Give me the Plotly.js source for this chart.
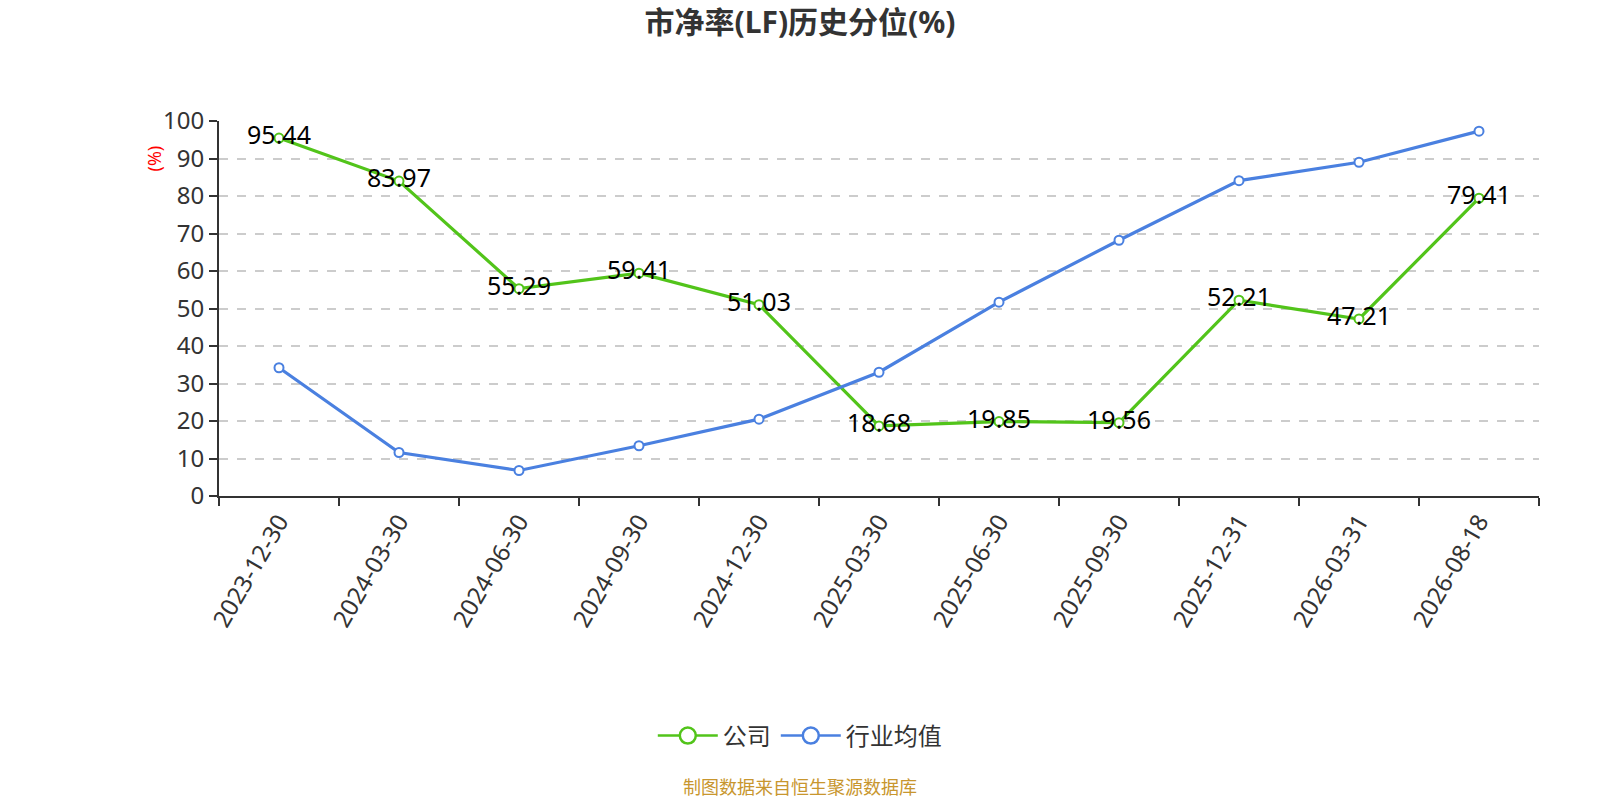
<html>
<head>
<meta charset="utf-8">
<script src="https://cdn.plot.ly/plotly-3.0.1.min.js"></script>
</head>
<body style="margin:0">
<div id="chart" style="width:1600px;height:800px"></div>
<script>
// quarter end dates on the x axis
var dates = ["2023-12-30", "2024-03-30", "2024-06-30", "2024-09-30", "2024-12-30",
             "2025-03-30", "2025-06-30", "2025-09-30", "2025-12-31", "2026-03-31", "2026-08-18"];
// company percentile (labels)
var company = [95.44, 83.97, 55.29, 59.41, 51.03, 18.68, 19.85, 19.56, 52.21, 47.21, 79.41];
// industry average percentile (estimated from the line)
var industry = [34.2, 11.6, 6.8, 13.4, 20.5, 33.0, 51.7, 68.2, 84.1, 89.0, 97.3];
var seriesNames = ["公司", "行业均值"];

var fontFam = "Noto Sans, Noto Sans CJK SC, sans-serif";
var green = "#52c41a";
var blue = "#4a80e0";

var companyTrace = {
  x: dates, y: company, name: seriesNames[0], showlegend: false,
  type: "scatter", mode: "lines+markers+text",
  text: company.map(function (v) { return v.toFixed(2); }),
  textposition: "middle center",
  textfont: {family: fontFam, size: 25, color: "#000000"},
  line: {color: green, width: 3.2},
  marker: {symbol: "circle", size: 9, color: "#ffffff", line: {color: green, width: 2}},
  hoverinfo: "x+y"
};
var industryTrace = {
  x: dates, y: industry, name: seriesNames[1], showlegend: false,
  type: "scatter", mode: "lines+markers",
  line: {color: blue, width: 3.2},
  marker: {symbol: "circle", size: 9, color: "#ffffff", line: {color: blue, width: 2}},
  hoverinfo: "x+y"
};

// legend-only entries so the legend symbols can be larger, like the original
function legendEntry(name, color) {
  return {
    x: [null], y: [null], name: name, type: "scatter", mode: "lines+markers",
    line: {color: color, width: 2.5},
    marker: {symbol: "circle", size: 16, color: "#ffffff", line: {color: color, width: 2.5}},
    hoverinfo: "skip"
  };
}

var layout = {
  width: 1600, height: 800,
  margin: {l: 219, r: 61, t: 121, b: 304},
  paper_bgcolor: "#ffffff", plot_bgcolor: "#ffffff",
  font: {family: fontFam, color: "#333333"},
  title: {
    text: "<b>市净率(LF)历史分位(%)</b>",
    font: {family: fontFam, size: 30, color: "#333333"},
    x: 0.5, xanchor: "center", y: 0.972, yanchor: "middle"
  },
  showlegend: true,
  legend: {
    orientation: "h", x: 0.44, xanchor: "center",
    y: -0.64, yanchor: "middle",
    font: {family: fontFam, size: 24, color: "#333333"},
    itemwidth: 60
  },
  xaxis: {
    type: "category", tickson: "boundaries",
    range: [-0.5, dates.length - 0.5],
    ticks: "outside", ticklen: 8, tickwidth: 2, tickcolor: "#333333",
    showline: true, linecolor: "#333333", linewidth: 2,
    showgrid: false, zeroline: false,
    tickangle: -60,
    tickfont: {family: fontFam, size: 24, color: "#333333"}
  },
  yaxis: {
    range: [0, 100], dtick: 10,
    ticks: "outside", ticklen: 8, tickwidth: 2, tickcolor: "#333333",
    showline: true, linecolor: "#333333", linewidth: 2,
    showgrid: true, gridcolor: "#cccccc", griddash: "dash", gridwidth: 1.5,
    zeroline: false,
    tickfont: {family: fontFam, size: 24, color: "#333333"}
  },
  annotations: [
    {
      text: "(%)", xref: "paper", yref: "paper", x: -0.05, y: 0.9,
      xanchor: "center", yanchor: "middle", textangle: -90, showarrow: false,
      font: {family: fontFam, size: 18, color: "#ff0000"}
    },
    {
      text: "制图数据来自恒生聚源数据库", xref: "paper", yref: "paper",
      x: 0.44, y: -0.775, xanchor: "center", yanchor: "middle", showarrow: false,
      font: {family: fontFam, size: 18, color: "#c8962e"}
    }
  ]
};

Plotly.newPlot("chart",
  [companyTrace, industryTrace, legendEntry(seriesNames[0], green), legendEntry(seriesNames[1], blue)],
  layout, {displayModeBar: false});
</script>
</body>
</html>
